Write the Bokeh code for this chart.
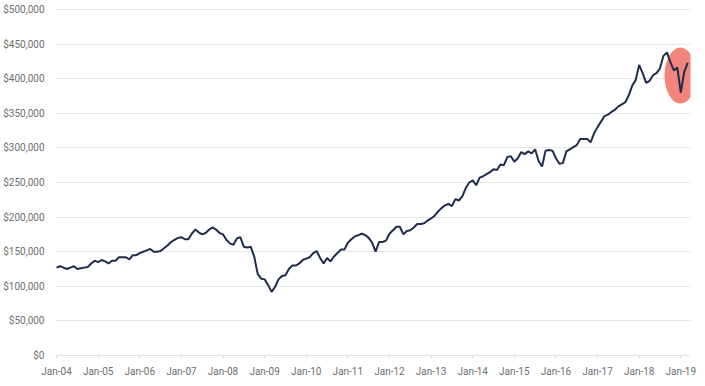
from bokeh.plotting import figure
from bokeh.models import Range1d, FixedTicker, NumeralTickFormatter
from bokeh.embed import file_html
from bokeh.resources import INLINE

# Monthly values (USD thousands), Jan-04 .. Mar-19
values_k = [
    127, 129, 127, 125, 127, 129, 125, 126, 127, 128, 133, 137,   # 2004
    135, 138, 136, 133, 137, 137, 142, 142, 142, 139, 145, 145,   # 2005
    148, 150, 152, 154, 150, 150, 151, 155, 159, 164, 167, 170,   # 2006
    171, 168, 168, 176, 182, 178, 175, 177, 182, 185, 182, 177,   # 2007
    175, 167, 162, 160, 169, 171, 157, 156, 157, 143, 118, 111,   # 2008
    110, 102, 92, 99, 110, 115, 116, 125, 130, 130, 133, 138,     # 2009
    140, 142, 148, 151, 141, 133, 141, 136, 143, 148, 153, 153,   # 2010
    163, 168, 172, 174, 176, 174, 170, 163, 150, 164, 164, 166,   # 2011
    176, 181, 186, 186, 175, 180, 181, 185, 190, 190, 191, 195,   # 2012
    198, 202, 208, 213, 217, 219, 216, 226, 224, 230, 242, 250,   # 2013
    253, 246, 257, 259, 262, 265, 269, 268, 276, 275, 287, 288,   # 2014
    280, 285, 294, 291, 295, 292, 298, 281, 273, 296, 297, 296,   # 2015
    285, 277, 278, 295, 298, 301, 304, 313, 313, 313, 308, 321,   # 2016
    330, 338, 346, 348, 352, 355, 360, 363, 366, 376, 390, 398,   # 2017
    420, 408, 394, 397, 405, 408, 415, 433, 438, 424, 412, 416,   # 2018
    380, 410, 423,                                                # 2019
]
values = [v * 1000 for v in values_k]
months = list(range(len(values)))

tick_labels = ["Jan-04", "Jan-05", "Jan-06", "Jan-07", "Jan-08", "Jan-09", "Jan-10",
               "Jan-11", "Jan-12", "Jan-13", "Jan-14", "Jan-15", "Jan-16", "Jan-17",
               "Jan-18", "Jan-19"]
tick_positions = [12 * i for i in range(len(tick_labels))]

# highlighted region (months index range and value range)
highlight_months = (175.3, 184.5)
highlight_values = (364000, 445000)

p = figure(width=705, height=386, output_backend="svg", toolbar_location=None,
           x_range=Range1d(-0.3, 182.8), y_range=Range1d(0, 510100),
           min_border_left=54, min_border_right=15, min_border_top=2,
           min_border_bottom=31)
p.outline_line_color = None
p.background_fill_color = "white"
p.border_fill_color = "white"

hx = (highlight_months[0] + highlight_months[1]) / 2
hw = highlight_months[1] - highlight_months[0]
hy = (highlight_values[0] + highlight_values[1]) / 2
hh = highlight_values[1] - highlight_values[0]
p.ellipse(x=[hx], y=[hy], width=[hw], height=[hh], fill_color="#F2857B",
          line_color=None)

p.line(months, values, line_color="#1f2c4c", line_width=2)

font = "Roboto"
# y axis
p.yaxis.ticker = FixedTicker(ticks=[50000 * i for i in range(11)])
p.yaxis.formatter = NumeralTickFormatter(format="$0,0")
p.yaxis.axis_line_color = None
p.yaxis.major_tick_line_color = None
p.yaxis.minor_tick_line_color = None
p.yaxis.major_label_standoff = 5
p.yaxis.major_label_text_font = font
p.yaxis.major_label_text_font_size = "10px"
p.yaxis.major_label_text_color = "#6e6e6e"

# x axis
p.xaxis.ticker = FixedTicker(ticks=tick_positions)
p.xaxis.major_label_overrides = {t: l for t, l in zip(tick_positions, tick_labels)}
p.xaxis.axis_line_color = "#e2e2e2"
p.xaxis.major_tick_line_color = "#dadada"
p.xaxis.major_tick_in = 0
p.xaxis.major_tick_out = 3
p.xaxis.minor_tick_line_color = None
p.xaxis.major_label_standoff = 7
p.xaxis.major_label_text_font = font
p.xaxis.major_label_text_font_size = "10px"
p.xaxis.major_label_text_color = "#6e6e6e"

p.xgrid.grid_line_color = None
p.ygrid.grid_line_color = "#e6e6e6"
p.ygrid.grid_line_width = 1

open("out.html", "w").write(file_html(p, INLINE))
